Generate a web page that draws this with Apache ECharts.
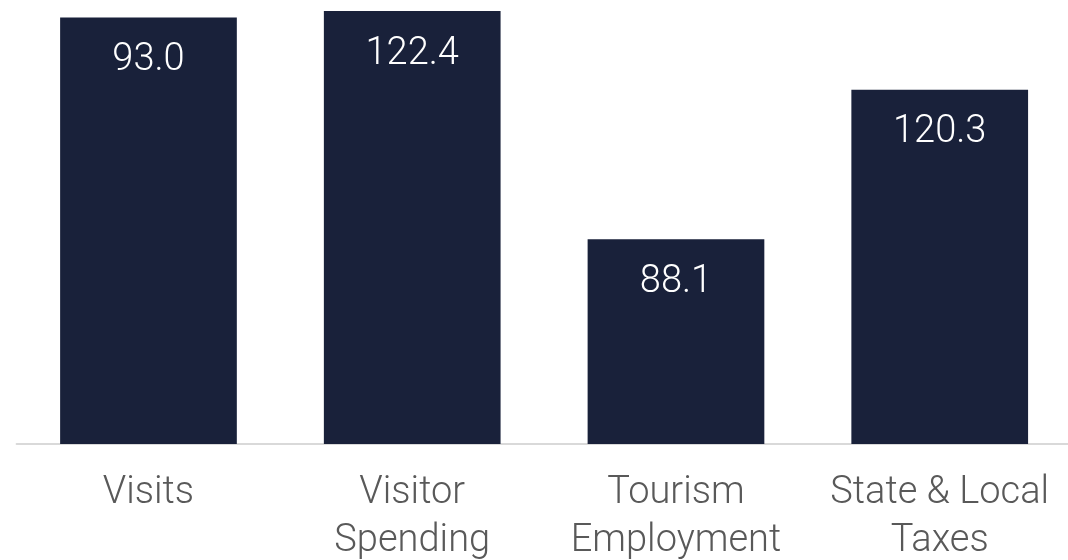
<!DOCTYPE html>
<html>
<head>
<meta charset="utf-8">
<script src="https://cdn.jsdelivr.net/npm/echarts@6/dist/echarts.min.js"></script>
<style>
html,body{margin:0;padding:0;background:#fff;}
#chart{width:1068px;height:560px;}
</style>
</head>
<body>
<div id="chart"></div>
<script>
const categories = ['Visits', 'Visitor\nSpending', 'Tourism\nEmployment', 'State & Local\nTaxes'];
const barHeights = [98.5, 100, 47.3, 81.8];
const barLabels = ['93.0', '122.4', '88.1', '120.3'];

const FONT = '"Roboto", monospace';
const chart = echarts.init(document.getElementById('chart'));
chart.setOption({
  animation: false,
  grid: { left: 16.6, width: 1055, top: 11, bottom: 116, outerBoundsMode: 'none', containLabel: false },
  xAxis: {
    type: 'category',
    data: categories,
    axisLine: { show: true, lineStyle: { color: '#d9d9d9', width: 2 } },
    axisTick: { show: false },
    axisLabel: {
      interval: 0,
      margin: 25,
      fontFamily: FONT,
      fontWeight: 300,
      fontSize: 38,
      lineHeight: 48,
      color: '#595959',
      formatter: v => v.split('\n').map(s => '{a|' + s + '}').join('\n'),
      rich: {
        a: { fontFamily: FONT, fontWeight: 300, fontSize: 38, lineHeight: 48, color: '#595959' }
      }
    }
  },
  yAxis: {
    type: 'value',
    min: 0,
    max: 100,
    show: false,
    splitLine: { show: false }
  },
  series: [{
    type: 'bar',
    data: barHeights,
    barWidth: '67%',
    itemStyle: { color: '#19213a' },
    label: {
      show: true,
      position: 'insideTop',
      distance: 24,
      formatter: p => '{a|' + barLabels[p.dataIndex] + '}',
      fontFamily: FONT,
      fontWeight: 300,
      fontSize: 38,
      color: '#ffffff',
      rich: {
        a: { fontFamily: FONT, fontWeight: 300, fontSize: 38, color: '#ffffff' }
      }
    }
  }]
});
</script>
</body>
</html>
